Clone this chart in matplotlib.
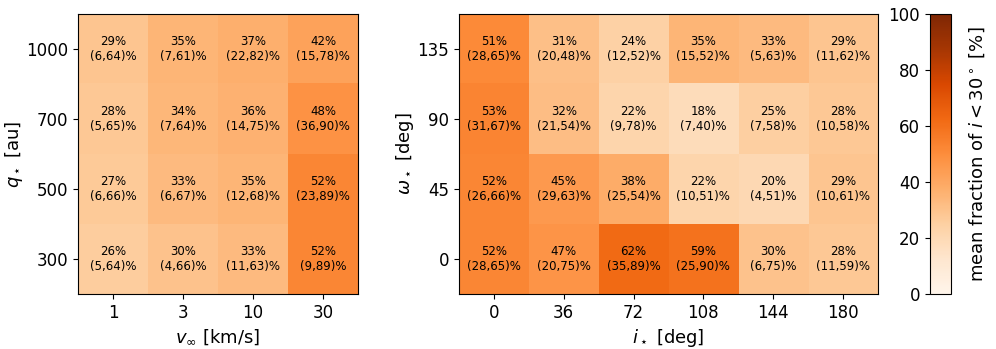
import matplotlib
matplotlib.use("Agg")
import matplotlib.pyplot as plt
import numpy as np

# left panel: rows = q (bottom to top), cols = v_inf
q_vals = ["300", "500", "700", "1000"]
v_vals = ["1", "3", "10", "30"]
left_mean = np.array([
    [26, 30, 33, 52],
    [27, 33, 35, 52],
    [28, 34, 36, 48],
    [29, 35, 37, 42],
])
left_range = [
    ["(5,64)", "(4,66)", "(11,63)", "(9,89)"],
    ["(6,66)", "(6,67)", "(12,68)", "(23,89)"],
    ["(5,65)", "(7,64)", "(14,75)", "(36,90)"],
    ["(6,64)", "(7,61)", "(22,82)", "(15,78)"],
]

# right panel: rows = omega (bottom to top), cols = i
w_vals = ["0", "45", "90", "135"]
i_vals = ["0", "36", "72", "108", "144", "180"]
right_mean = np.array([
    [52, 47, 62, 59, 30, 28],
    [52, 45, 38, 22, 20, 29],
    [53, 32, 22, 18, 25, 28],
    [51, 31, 24, 35, 33, 29],
])
right_range = [
    ["(28,65)", "(20,75)", "(35,89)", "(25,90)", "(6,75)", "(11,59)"],
    ["(26,66)", "(29,63)", "(25,54)", "(10,51)", "(4,51)", "(10,61)"],
    ["(31,67)", "(21,54)", "(9,78)", "(7,40)", "(7,58)", "(10,58)"],
    ["(28,65)", "(20,48)", "(12,52)", "(15,52)", "(5,63)", "(11,62)"],
]

fig = plt.figure(figsize=(9.96, 3.49), dpi=100)
ax1 = fig.add_axes([0.0783, 0.1576, 0.2811, 0.8023])
ax2 = fig.add_axes([0.4608, 0.1576, 0.4207, 0.8023])
cax = fig.add_axes([0.9337, 0.1576, 0.0211, 0.8023])


def draw(ax, mean, ranges, xlabels, ylabels):
    im = ax.imshow(mean, origin="lower", cmap="Oranges", vmin=0, vmax=100,
                   aspect="auto")
    for r in range(mean.shape[0]):
        for c in range(mean.shape[1]):
            ax.text(c, r, f"{mean[r, c]}%\n{ranges[r][c]}%", ha="center",
                    va="center", fontsize=8.5)
    ax.set_xticks(range(len(xlabels)))
    ax.set_xticklabels(xlabels)
    ax.set_yticks(range(len(ylabels)))
    ax.set_yticklabels(ylabels)
    ax.tick_params(labelsize=12)
    return im


im = draw(ax1, left_mean, left_range, v_vals, q_vals)
ax1.set_xlabel(r"$v_\infty$ [km/s]", fontsize=13)
ax1.set_ylabel(r"$q_\star$ [au]", fontsize=13, labelpad=1)

draw(ax2, right_mean, right_range, i_vals, w_vals)
ax2.set_xlabel(r"$i_\star$ [deg]", fontsize=13)
ax2.set_ylabel(r"$\omega_\star$ [deg]", fontsize=13, labelpad=1)

cb = fig.colorbar(im, cax=cax)
cax.yaxis.set_ticks_position("left")
cax.yaxis.set_label_position("right")
cax.tick_params(labelsize=12)
cb.set_label(r"mean fraction of $i < 30^\circ$ [%]", fontsize=13, labelpad=12)

fig.savefig("out.png", dpi=100)
